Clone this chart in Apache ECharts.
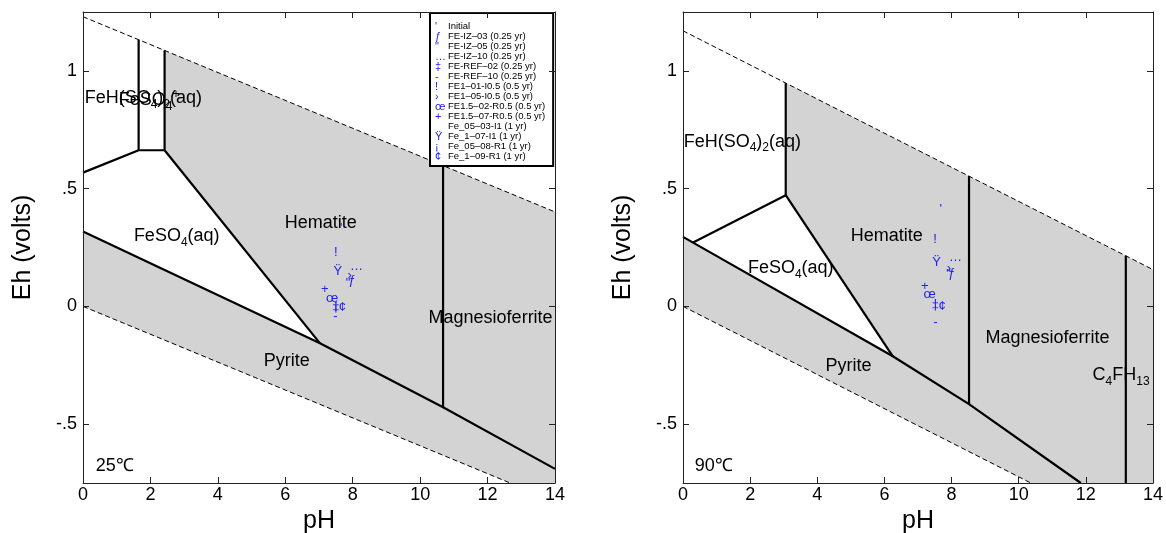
<!DOCTYPE html>
<html><head><meta charset="utf-8">
<script src="https://cdn.jsdelivr.net/npm/echarts@6/dist/echarts.min.js"></script>
<style>html,body{margin:0;padding:0;background:#fff}#c{width:1166px;height:533px}</style>
</head><body><div id="c"></div>
<script>
// ---------- axis ticks ----------
const xTicks = [0, 2, 4, 6, 8, 10, 12, 14];
const yTicks = [-0.5, 0, 0.5, 1];
const yTickLabels = ['-.5', '0', '.5', '1'];

// ---------- 25 C boundaries (pH, Eh) ----------
const waterBand25 = [[0, 1.23], [14, 0.401], [14, -0.75], [12.67, -0.75], [0, 0]];
const aqueous25 = [[0, 0.318], [7.03, -0.157], [2.42, 0.663], [2.42, 1.087], [0, 1.23]];
const upperWater25 = [[0, 1.23], [14, 0.401]];
const lowerWater25 = [[0, 0], [12.67, -0.75]];
const pyrite25 = [[0, 0.318], [7.03, -0.157], [10.68, -0.428], [14, -0.69]];
const feso4Hem25 = [[2.42, 0.663], [7.03, -0.157]];
const fehFeso4_25 = [[0, 0.568], [1.65, 0.663], [2.42, 0.663]];
const vertA25 = [[1.65, 0.663], [1.65, 1.132]];
const vertB25 = [[2.42, 0.663], [2.42, 1.087]];
const hemMg25 = [[10.68, -0.428], [10.68, 0.598]];

// ---------- 90 C boundaries ----------
const waterBand90 = [[0, 1.17], [14, 0.156], [14, -0.75], [10.36, -0.75], [0, 0]];
const aqueous90 = [[0, 0.295], [6.25, -0.212], [3.06, 0.472], [3.06, 0.948], [0, 1.17]];
const upperWater90 = [[0, 1.17], [14, 0.156]];
const lowerWater90 = [[0, 0], [10.36, -0.75]];
const pyrite90 = [[0, 0.295], [6.25, -0.212], [8.52, -0.415], [11.85, -0.75]];
const fehFeso4_90 = [[0.3, 0.271], [3.06, 0.472]];
const feso4Hem90 = [[3.06, 0.472], [6.25, -0.212]];
const vert90 = [[3.06, 0.472], [3.06, 0.948]];
const hemMg90 = [[8.52, -0.415], [8.52, 0.553]];
const mgC4_90 = [[13.19, -0.75], [13.19, 0.215]];

// ---------- samples ----------
const sampleNames = ['Initial', 'FE-IZ–03 (0.25 yr)', 'FE-IZ–05 (0.25 yr)', 'FE-IZ–10 (0.25 yr)',
  'FE-REF–02 (0.25 yr)', 'FE-REF–10 (0.25 yr)', 'FE1–01-I0.5 (0.5 yr)', 'FE1–05-I0.5 (0.5 yr)',
  'FE1.5–02-R0.5 (0.5 yr)', 'FE1.5–07-R0.5 (0.5 yr)', 'Fe_05–03-I1 (1 yr)', 'Fe_1–07-I1 (1 yr)',
  'Fe_05–08-R1 (1 yr)', 'Fe_1–09-R1 (1 yr)'];
const sampleGlyphs = ["'", 'ƒ', '"', '…', '‡', '-', '!', '›', 'œ', '+', ' ', 'Ÿ', '¡', '¢'];
const ph25 = [7.66, 7.98, 7.86, 8.11, 7.50, 7.49, 7.50, 7.91, 7.39, 7.17, null, 7.56, 7.50, 7.69];
const eh25 = [0.331, 0.110, 0.098, 0.170, -0.003, -0.044, 0.231, 0.132, 0.035, 0.071, null, 0.150, 0.004, -0.003];
const ph90 = [7.68, 8.01, 7.91, 8.12, 7.52, 7.52, 7.51, 7.92, 7.35, 7.20, null, 7.55, 7.52, 7.72];
const eh90 = [0.412, 0.139, 0.136, 0.208, 0.004, -0.067, 0.283, 0.161, 0.050, 0.086, null, 0.188, 0.017, 0.001];

// ---------- region labels ----------
const labels25 = [
  {x: 0.05, y: 0.884, t: '{n|FeH(SO}{s|4}{n|)}{s|2}{n|(aq)}', a: 'left'},
  {x: 1.06, y: 0.875, t: '{n|FeSO}{s|4}{p|+}', a: 'left'},
  {x: 2.78, y: 0.297, t: '{n|FeSO}{s|4}{n|(aq)}', a: 'center'},
  {x: 7.05, y: 0.354, t: '{n|Hematite}', a: 'center'},
  {x: 12.09, y: -0.051, t: '{n|Magnesioferrite}', a: 'center'},
  {x: 6.04, y: -0.234, t: '{n|Pyrite}', a: 'center'},
  {x: 0.38, y: -0.676, t: '{n|25℃}', a: 'left'}
];
const labels90 = [
  {x: 0.02, y: 0.698, t: '{n|FeH(SO}{s|4}{n|)}{s|2}{n|(aq)}', a: 'left'},
  {x: 3.21, y: 0.161, t: '{n|FeSO}{s|4}{n|(aq)}', a: 'center'},
  {x: 6.07, y: 0.297, t: '{n|Hematite}', a: 'center'},
  {x: 10.86, y: -0.136, t: '{n|Magnesioferrite}', a: 'center'},
  {x: 4.93, y: -0.255, t: '{n|Pyrite}', a: 'center'},
  {x: 12.2, y: -0.293, t: '{n|C}{s|4}{n|FH}{s|13}', a: 'left'},
  {x: 0.35, y: -0.676, t: '{n|90℃}', a: 'left'}
];

// ---------- build ----------
const FONT = '"Liberation Sans", Arial, Helvetica, sans-serif';
const BLUE = '#2222ee';
const GRAY = '#d3d3d3';
const RICH = {
  n: {fontSize: 18, lineHeight: 24, fontFamily: FONT, fill: '#000'},
  s: {fontSize: 12, lineHeight: 12, fontFamily: FONT, fill: '#000', verticalAlign: 'bottom'},
  p: {fontSize: 12, lineHeight: 12, fontFamily: FONT, fill: '#000', verticalAlign: 'top'}
};

function polygon(idx, pts, fill) {
  return {type: 'custom', xAxisIndex: idx * 2, yAxisIndex: idx * 2, silent: true, z: 1,
    data: pts, clip: true,
    renderItem: (p, api) => {
      if (p.dataIndex !== 0) return null;
      return {type: 'polygon', shape: {points: pts.map(q => api.coord(q))}, style: {fill: fill}};
    }};
}
function line(idx, pts, dashed) {
  return {type: 'line', xAxisIndex: idx * 2, yAxisIndex: idx * 2, silent: true, z: 3,
    data: pts, showSymbol: false, symbol: 'none', animation: false,
    lineStyle: dashed ? {color: '#000', width: 1, type: [5, 3]} : {color: '#000', width: 2.2}};
}
function textLabels(idx, labs) {
  return {type: 'custom', xAxisIndex: idx * 2, yAxisIndex: idx * 2, silent: true, z: 6, clip: false,
    data: labs.map(l => [l.x, l.y]),
    renderItem: (p, api) => {
      const l = labs[p.dataIndex];
      const c = api.coord([api.value(0), api.value(1)]);
      return {type: 'text', x: c[0], y: c[1],
        style: {text: l.t, rich: RICH, align: l.a, verticalAlign: 'middle', fontSize: 18, fontFamily: FONT, fill: '#000'}};
    }};
}
function samples(idx, phs, ehs) {
  return sampleNames.map((name, i) => ({
    type: 'custom', name: name, xAxisIndex: idx * 2, yAxisIndex: idx * 2, z: 7, silent: true,
    itemStyle: {color: BLUE},
    data: phs[i] == null ? [] : [[phs[i], ehs[i]]],
    renderItem: (p, api) => {
      const c = api.coord([api.value(0), api.value(1)]);
      return {type: 'text', x: c[0], y: c[1],
        style: {text: sampleGlyphs[i], align: 'center', verticalAlign: 'middle', fontSize: 13, fontFamily: FONT, fill: BLUE}};
    }
  }));
}

const grids = [
  {left: 83, top: 12, width: 472, height: 471, outerBoundsMode: 'none', containLabel: false},
  {left: 683, top: 12, width: 470, height: 471, outerBoundsMode: 'none', containLabel: false}
];
const axisLineStyle = {color: '#222', width: 1};
const xAxes = [], yAxes = [];
grids.forEach((g, gi) => {
  xAxes.push({type: 'value', gridIndex: gi, min: 0, max: 14, interval: 2, position: 'bottom', z: 5,
    name: 'pH', nameLocation: 'middle', nameGap: 25,
    nameTextStyle: {fontSize: 25, color: '#000', fontFamily: FONT},
    axisLine: {show: true, onZero: false, lineStyle: axisLineStyle},
    axisTick: {show: true, inside: true, length: 6, lineStyle: axisLineStyle},
    axisLabel: {fontSize: 18, color: '#000', fontFamily: FONT, margin: 3},
    splitLine: {show: false}});
  xAxes.push({type: 'value', gridIndex: gi, min: 0, max: 14, interval: 2, position: 'top', z: 5,
    axisLine: {show: true, onZero: false, lineStyle: axisLineStyle},
    axisTick: {show: true, inside: true, length: 6, lineStyle: axisLineStyle},
    axisLabel: {show: false}, splitLine: {show: false}});
  yAxes.push({type: 'value', gridIndex: gi, min: -0.75, max: 1.25, position: 'left', z: 5,
    name: 'Eh (volts)', nameLocation: 'middle', nameGap: 47,
    nameTextStyle: {fontSize: 25, color: '#000', fontFamily: FONT},
    axisLine: {show: true, onZero: false, lineStyle: axisLineStyle},
    axisTick: {show: true, inside: true, length: 6, lineStyle: axisLineStyle, customValues: yTicks},
    axisLabel: {fontSize: 18, color: '#000', fontFamily: FONT, margin: 6, customValues: yTicks,
      formatter: v => { const k = yTicks.findIndex(t => Math.abs(t - v) < 1e-9); return k >= 0 ? yTickLabels[k] : ''; }},
    splitLine: {show: false}});
  yAxes.push({type: 'value', gridIndex: gi, min: -0.75, max: 1.25, position: 'right', z: 5,
    axisLine: {show: true, onZero: false, lineStyle: axisLineStyle},
    axisTick: {show: true, inside: true, length: 6, lineStyle: axisLineStyle, customValues: yTicks},
    axisLabel: {show: false}, splitLine: {show: false}});
});

const series = [
  polygon(0, waterBand25, GRAY), polygon(0, aqueous25, '#fff'),
  line(0, upperWater25, true), line(0, lowerWater25, true),
  line(0, pyrite25), line(0, feso4Hem25), line(0, fehFeso4_25), line(0, vertA25), line(0, vertB25), line(0, hemMg25),
  textLabels(0, labels25),
  polygon(1, waterBand90, GRAY), polygon(1, aqueous90, '#fff'),
  line(1, upperWater90, true), line(1, lowerWater90, true),
  line(1, pyrite90), line(1, fehFeso4_90), line(1, feso4Hem90), line(1, vert90), line(1, hemMg90), line(1, mgC4_90),
  textLabels(1, labels90)
].concat(samples(0, ph25, eh25)).concat(samples(1, ph90, eh90));

const chart = echarts.init(document.getElementById('c'), null, {renderer: 'canvas'});
chart.setOption({
  animation: false,
  backgroundColor: '#fff',
  grid: grids,
  xAxis: xAxes,
  yAxis: yAxes,
  legend: {
    orient: 'vertical', left: 430, top: 13, itemGap: -1, itemWidth: 0, itemHeight: 9,
    padding: [8, 8, 4, 0], backgroundColor: '#fff', borderColor: '#000', borderWidth: 2, borderRadius: 0,
    itemStyle: {opacity: 0}, selectedMode: false, z: 4,
    data: sampleNames,
    formatter: name => '{m|' + sampleGlyphs[sampleNames.indexOf(name)] + '}{t|' + name + '}',
    textStyle: {fontFamily: FONT, rich: {
      m: {width: 13, fontSize: 11, color: BLUE, fontFamily: FONT, lineHeight: 9},
      t: {fontSize: 9.5, color: '#000', fontFamily: FONT, lineHeight: 9}
    }}
  },
  series: series
});
</script>
</body></html>
